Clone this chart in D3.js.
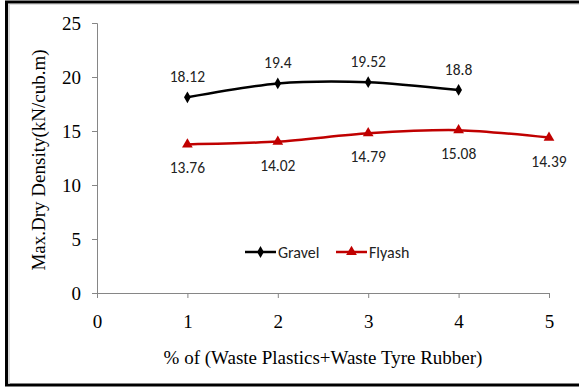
<!DOCTYPE html>
<html><head><meta charset="utf-8">
<script src="https://cdn.jsdelivr.net/npm/d3@7"></script>
<style>body{margin:0;background:#fff}svg{display:block}</style>
</head><body>
<script>
const xValues = [1, 2, 3, 4, 5];
const gravel = [18.12, 19.4, 19.52, 18.8];
const flyash = [13.76, 14.02, 14.79, 15.08, 14.39];
const xTicks = [0, 1, 2, 3, 4, 5];
const yTicks = [0, 5, 10, 15, 20, 25];
const seriesNames = ["Gravel", "Flyash"];

const W = 579, H = 387;
const svg = d3.select("body").append("svg").attr("width", W).attr("height", H);

// frame
svg.append("rect").attr("x", 6.5).attr("y", 2).attr("width", 600).attr("height", 383)
  .attr("fill", "none").attr("stroke", "#000").attr("stroke-width", 3);
svg.append("line").attr("x1", 9).attr("x2", 9).attr("y1", 4).attr("y2", 384).attr("stroke", "#ccc").attr("stroke-width", 1.5);
svg.append("line").attr("x1", 9).attr("x2", 600).attr("y1", 4.5).attr("y2", 4.5).attr("stroke", "#ddd").attr("stroke-width", 1);

const x = d3.scaleLinear().domain([0, 5]).range([97, 549]);
const y = d3.scaleLinear().domain([0, 25]).range([293, 23]);

const serif = "'Liberation Serif','Times New Roman',serif";
const sans = "Carlito,'Open Sans','Noto Sans',sans-serif";

const xAxis = svg.append("g").attr("transform", `translate(0,${y(0)})`)
  .call(d3.axisBottom(x).tickValues(xTicks).tickSize(5).tickPadding(17).tickFormat(d3.format("d")));
const yAxis = svg.append("g").attr("transform", `translate(${x(0)},0)`)
  .call(d3.axisLeft(y).tickValues(yTicks).tickSize(5).tickPadding(11).tickFormat(d3.format("d")));
[xAxis, yAxis].forEach(a => {
  a.select(".domain").attr("stroke", "#868686");
  a.selectAll(".tick line").attr("stroke", "#868686");
  a.selectAll("text").attr("font-family", serif).attr("font-size", 19).attr("fill", "#000");
});

svg.append("text").attr("transform", `translate(45,160) rotate(-90)`).attr("text-anchor", "middle")
  .attr("font-family", serif).attr("font-size", 19).text("Max.Dry Density(kN/cub.m)");
svg.append("text").attr("x", 323).attr("y", 364).attr("text-anchor", "middle")
  .attr("font-family", serif).attr("font-size", 19).text("% of (Waste Plastics+Waste Tyre Rubber)");

const line = d3.line().x(d => x(d[0])).y(d => y(d[1])).curve(d3.curveCardinal.tension(0.2));
const gData = gravel.map((v, i) => [xValues[i], v]);
const fData = flyash.map((v, i) => [xValues[i], v]);

const diamond = d3.symbol().type(d3.symbolDiamond).size(40);
const tri = d3.symbol().type(d3.symbolTriangle).size(50);

function drawSeries(data, color, sym, dy) {
  svg.append("path").attr("d", line(data)).attr("fill", "none").attr("stroke", color).attr("stroke-width", 2.5);
  svg.selectAll(null).data(data).enter().append("path").attr("d", sym)
    .attr("transform", d => `translate(${x(d[0])},${y(d[1])})`).attr("fill", color);
  svg.selectAll(null).data(data).enter().append("text")
    .attr("x", d => x(d[0])).attr("y", d => y(d[1]) + dy).attr("text-anchor", "middle")
    .attr("font-family", sans).attr("font-size", 15.5).attr("fill", "#222").text(d => d[1]);
}
drawSeries(gData, "#000", diamond, -15);
drawSeries(fData, "#c00000", tri, 29);

// legend
const leg = [{name: seriesNames[0], color: "#000", sym: diamond, x: 245},
             {name: seriesNames[1], color: "#c00000", sym: tri, x: 336}];
leg.forEach(l => {
  svg.append("line").attr("x1", l.x).attr("x2", l.x + 31).attr("y1", 252).attr("y2", 252)
    .attr("stroke", l.color).attr("stroke-width", 2.5);
  svg.append("path").attr("d", l.sym).attr("transform", `translate(${l.x + 15.5},252)`).attr("fill", l.color);
  svg.append("text").attr("x", l.x + 33).attr("y", 257.5).attr("font-family", sans).attr("font-size", 16)
    .attr("fill", "#222").text(l.name);
});
</script>
</body></html>
